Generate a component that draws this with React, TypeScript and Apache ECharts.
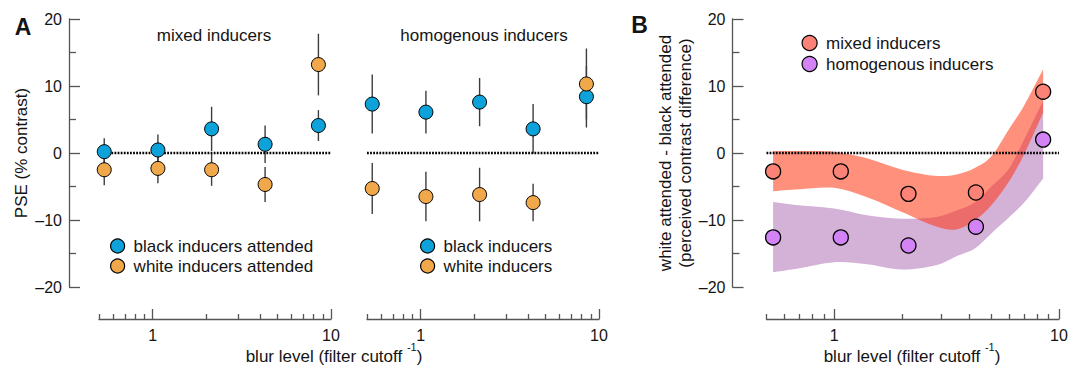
import React, { useEffect, useRef } from 'react';
import * as echarts from 'echarts';

// ---------- data ----------
const blurLevels = [0.535, 1.07, 2.14, 4.27, 8.5];

// Panel A, mixed inducers
const mixedBlackAttended = [0.2, 0.45, 3.6, 1.3, 4.1];
const mixedBlackErr = [2.0, 2.3, 3.3, 2.8, 2.3];
const mixedWhiteAttended = [-2.5, -2.3, -2.5, -4.7, 13.2];
const mixedWhiteErr = [2.3, 2.2, 2.4, 2.6, 4.6];

// Panel A, homogenous inducers
const homBlack = [7.3, 6.1, 7.6, 3.6, 8.4];
const homBlackErr = [4.4, 3.2, 3.6, 3.7, 4.6];
const homWhite = [-5.3, -6.5, -6.2, -7.4, 10.3];
const homWhiteErr = [3.8, 3.7, 4.0, 2.8, 5.3];

// Panel B, differences (white attended - black attended)
const diffMixed = [-2.75, -2.75, -6.1, -5.9, 9.15];
const diffHom = [-12.6, -12.6, -13.8, -11.0, 2.0];

// Panel B, confidence bands
const bandX = [0.535, 0.7, 1.0, 1.4, 2.0, 2.8, 3.5, 4.24, 5.0, 6.0, 7.0, 8.5];
const mixedBandUpper = [0.3, 0.3, 0.2, -0.8, -2.5, -3.4, -3.2, -2.2, -0.5, 3.6, 7.1, 12.5];
const mixedBandLower = [-5.7, -5.4, -5.2, -6.6, -8.8, -10.9, -11.4, -10.0, -7.8, -4.2, -0.2, 6.0];
const homBandUpper = [-7.3, -7.8, -8.3, -9.3, -9.8, -9.6, -8.6, -7.3, -5.0, -2.3, 2.0, 7.8];
const homBandLower = [-17.8, -17.2, -16.3, -16.6, -17.4, -16.8, -15.4, -14.2, -12.0, -9.6, -7.4, -3.8];

// axes
const xRange = [0.5, 10];
const xTickMajor = [1, 10];
const xTickMinor = [0.5, 0.6, 0.7, 0.8, 0.9, 2, 3, 4, 5, 6, 7, 8, 9];
const yRange = [-20, 20];
const yInterval = 10;

// ---------- styles ----------
const FONT = '"Liberation Sans", Arial, Helvetica, sans-serif';
const TXT = '#141414';
const AXIS = '#555555';
const BLUE = '#0EA2DA';
const ORANGE = '#F0A84A';
const RED_PT = '#FB8277';
const PURPLE_PT = '#D383F5';
const RED_BAND = 'rgba(255,45,8,0.53)';
const PURPLE_BAND = '#D4B2D8';

// smooth closed band shape (Catmull-Rom spline along both edges, straight ends)
function splineTo(ctx: any, pts: number[][]) {
  const n = pts.length;
  for (let i = 0; i < n - 1; i++) {
    const p0 = pts[Math.max(0, i - 1)];
    const p1 = pts[i];
    const p2 = pts[i + 1];
    const p3 = pts[Math.min(n - 1, i + 2)];
    const c1x = p1[0] + (p2[0] - p0[0]) / 6;
    const c1y = p1[1] + (p2[1] - p0[1]) / 6;
    const c2x = p2[0] - (p3[0] - p1[0]) / 6;
    const c2y = p2[1] - (p3[1] - p1[1]) / 6;
    ctx.bezierCurveTo(c1x, c1y, c2x, c2y, p2[0], p2[1]);
  }
}
echarts.graphic.registerShape(
  'bandShape',
  echarts.graphic.extendShape({
    shape: { upper: [], lower: [] },
    buildPath(ctx: any, shape: any) {
      const up = shape.upper as number[][];
      const lo = (shape.lower as number[][]).slice().reverse();
      if (!up.length) return;
      ctx.moveTo(up[0][0], up[0][1]);
      splineTo(ctx, up);
      ctx.lineTo(lo[0][0], lo[0][1]);
      splineTo(ctx, lo);
      ctx.closePath();
    },
  } as any)
);

const zip = (xs: number[], ys: number[]) => xs.map((x, i) => [x, ys[i]]);

const yAxisFor = (gridIndex: number, offset: number, show: boolean) => ({
  type: 'value',
  gridIndex,
  min: yRange[0],
  max: yRange[1],
  interval: yInterval,
  offset,
  show,
  axisLine: { show: true, onZero: false, lineStyle: { color: AXIS, width: 1.3 } },
  axisTick: { show: true, inside: true, length: 11, lineStyle: { color: AXIS, width: 1.3 } },
  minorTick: { show: true, splitNumber: 2, length: 7, lineStyle: { color: AXIS, width: 1.3 } },
  axisLabel: {
    show: true,
    margin: 7,
    fontSize: 16,
    color: TXT,
    fontFamily: FONT,
    formatter: (v: number) => (v < 0 ? '\u2013' + Math.abs(v) : String(v)),
  },
  splitLine: { show: false },
  minorSplitLine: { show: false },
});

const xAxisMajor = (gridIndex: number) => ({
  type: 'log',
  logBase: 10,
  gridIndex,
  min: xRange[0],
  max: xRange[1],
  position: 'bottom',
  offset: 32,
  axisLine: { show: true, onZero: false, lineStyle: { color: AXIS, width: 1.3 } },
  axisTick: { show: true, inside: true, length: 10, customValues: xTickMajor, lineStyle: { color: AXIS, width: 1.3 } },
  axisLabel: { show: true, customValues: xTickMajor, margin: 8, fontSize: 16, color: TXT, fontFamily: FONT },
  splitLine: { show: false },
  minorTick: { show: false },
});

const xAxisMinor = (gridIndex: number) => ({
  type: 'log',
  logBase: 10,
  gridIndex,
  min: xRange[0],
  max: xRange[1],
  position: 'bottom',
  offset: 32,
  axisLine: { show: false, onZero: false },
  axisTick: { show: true, inside: true, length: 5, customValues: xTickMinor, lineStyle: { color: AXIS, width: 1.3 } },
  axisLabel: { show: false },
  splitLine: { show: false },
  minorTick: { show: false },
});

const errSeries = (xi: number, yi: number, means: number[], errs: number[]) => ({
  type: 'custom',
  xAxisIndex: xi,
  yAxisIndex: yi,
  silent: true,
  z: 3,
  data: blurLevels.map((x, i) => [x, means[i] - errs[i], means[i] + errs[i]]),
  encode: { x: 0, y: [1, 2] },
  renderItem: (_params: any, api: any) => {
    const a = api.coord([api.value(0), api.value(1)]);
    const b = api.coord([api.value(0), api.value(2)]);
    return {
      type: 'line',
      shape: { x1: a[0], y1: a[1], x2: b[0], y2: b[1] },
      style: { stroke: '#3d3d3d', lineWidth: 1.4 },
    };
  },
});

const zeroLine = (xi: number, yi: number) => ({
  type: 'line',
  xAxisIndex: xi,
  yAxisIndex: yi,
  silent: true,
  z: 4,
  symbol: 'none',
  data: [
    [xRange[0], 0],
    [xRange[1], 0],
  ],
  lineStyle: { color: '#000', width: 2.4, type: [1.8, 1.3] },
});

const scatter = (name: string, xi: number, yi: number, ys: number[], color: string, size: number, bw: number) => ({
  type: 'scatter',
  name,
  xAxisIndex: xi,
  yAxisIndex: yi,
  silent: true,
  z: 6,
  symbol: 'circle',
  symbolSize: size,
  data: zip(blurLevels, ys),
  itemStyle: { color, borderColor: '#000', borderWidth: bw, opacity: 1 },
});

const band = (lower: number[], upper: number[], color: string, z: number) => ({
  type: 'custom',
  xAxisIndex: 4,
  yAxisIndex: 2,
  silent: true,
  z,
  data: [[bandX[0], lower[0]]],
  renderItem: (_params: any, api: any) => {
    const up = bandX.map((x, i) => api.coord([x, upper[i]]));
    const lo = bandX.map((x, i) => api.coord([x, lower[i]]));
    return {
      type: 'bandShape',
      shape: { upper: up, lower: lo },
      style: { fill: color, stroke: 'none' },
    };
  },
});

const legendFor = (names: string[], left: number, top: number, size: number, gap: number) => ({
  data: names,
  orient: 'vertical',
  left,
  top,
  padding: 0,
  itemWidth: size,
  itemHeight: size,
  itemGap: gap,
  icon: 'circle',
  selectedMode: false,
  itemStyle: { borderColor: '#000', borderWidth: 1.2 },
  textStyle: { fontSize: 17, fontFamily: FONT, color: TXT, lineHeight: 17, padding: [0, 0, 0, 4] },
});

const txt = (text: string, x: number, y: number, extra: any = {}) => ({
  type: 'text',
  x,
  y,
  rotation: extra.rotation || 0,
  silent: true,
  style: {
    text,
    fill: TXT,
    fontSize: extra.fontSize || 17,
    fontWeight: extra.fontWeight || 'normal',
    fontFamily: FONT,
    align: extra.align || 'center',
    textAlign: extra.align || 'center',
    verticalAlign: 'middle',
    textVerticalAlign: 'middle',
  },
});

const xLabel = (x: number, y: number) => ({
  type: 'text',
  x,
  y,
  silent: true,
  style: {
    text: '{a|blur level (filter cutoff }{s|-1}{a|)}',
    align: 'center',
    textAlign: 'center',
    verticalAlign: 'middle',
    textVerticalAlign: 'middle',
    fill: TXT,
    rich: {
      a: { fontSize: 17, fontFamily: FONT, fill: TXT, color: TXT, lineHeight: 30 },
      s: { fontSize: 11, fontFamily: FONT, fill: TXT, color: TXT, lineHeight: 11, verticalAlign: 'top' },
    },
  },
});

export default function App() {
  const ref = useRef<HTMLDivElement>(null);
  useEffect(() => {
    document.body.style.margin = '0';
    if (!ref.current) return;
    const chart = echarts.init(ref.current, undefined, { renderer: 'svg' });
    const option: any = {
      animation: false,
      backgroundColor: '#fff',
      textStyle: { fontFamily: FONT },
      grid: [
        { left: 99, top: 19, width: 232, height: 268, outerBoundsMode: 'none', containLabel: false },
        { left: 367, top: 19, width: 232, height: 268, outerBoundsMode: 'none', containLabel: false },
        { left: 766.5, top: 19, width: 292.5, height: 268, outerBoundsMode: 'none', containLabel: false },
      ],
      xAxis: [xAxisMajor(0), xAxisMinor(0), xAxisMajor(1), xAxisMinor(1), xAxisMajor(2), xAxisMinor(2)],
      yAxis: [yAxisFor(0, 30, true), yAxisFor(1, 0, false), yAxisFor(2, 34, true)],
      legend: [
        legendFor(['black inducers attended', 'white inducers attended'], 110, 237.5, 14, 3),
        legendFor(['black inducers', 'white inducers'], 420, 237.5, 14, 3),
        legendFor(['mixed inducers', 'homogenous inducers'], 801.5, 34.5, 15, 4),
      ],
      graphic: [
        txt('A', 23, 27, { fontSize: 23, fontWeight: 'bold' }),
        txt('B', 639.5, 25, { fontSize: 23, fontWeight: 'bold' }),
        txt('mixed inducers', 214, 35),
        txt('homogenous inducers', 484, 35),
        txt('PSE (% contrast)', 21, 153, { rotation: Math.PI / 2 }),
        txt('white attended - black attended', 665, 153, { rotation: Math.PI / 2 }),
        txt('(perceived contrast difference)', 685, 153, { rotation: Math.PI / 2 }),
        xLabel(334, 356),
        xLabel(912, 356),
      ],
      series: [
        // Panel A left
        zeroLine(0, 0),
        errSeries(0, 0, mixedBlackAttended, mixedBlackErr),
        errSeries(0, 0, mixedWhiteAttended, mixedWhiteErr),
        scatter('black inducers attended', 0, 0, mixedBlackAttended, BLUE, 14, 1),
        scatter('white inducers attended', 0, 0, mixedWhiteAttended, ORANGE, 14, 1),
        // Panel A right
        zeroLine(2, 1),
        errSeries(2, 1, homBlack, homBlackErr),
        errSeries(2, 1, homWhite, homWhiteErr),
        scatter('black inducers', 2, 1, homBlack, BLUE, 14, 1),
        scatter('white inducers', 2, 1, homWhite, ORANGE, 14, 1),
        // Panel B
        band(homBandLower, homBandUpper, PURPLE_BAND, 1),
        band(mixedBandLower, mixedBandUpper, RED_BAND, 2),
        zeroLine(4, 2),
        scatter('mixed inducers', 4, 2, diffMixed, RED_PT, 15, 1.3),
        scatter('homogenous inducers', 4, 2, diffHom, PURPLE_PT, 15, 1.3),
      ],
    };
    chart.setOption(option);
    return () => chart.dispose();
  }, []);
  return <div ref={ref} style={{ width: 1083, height: 365 }} />;
}
